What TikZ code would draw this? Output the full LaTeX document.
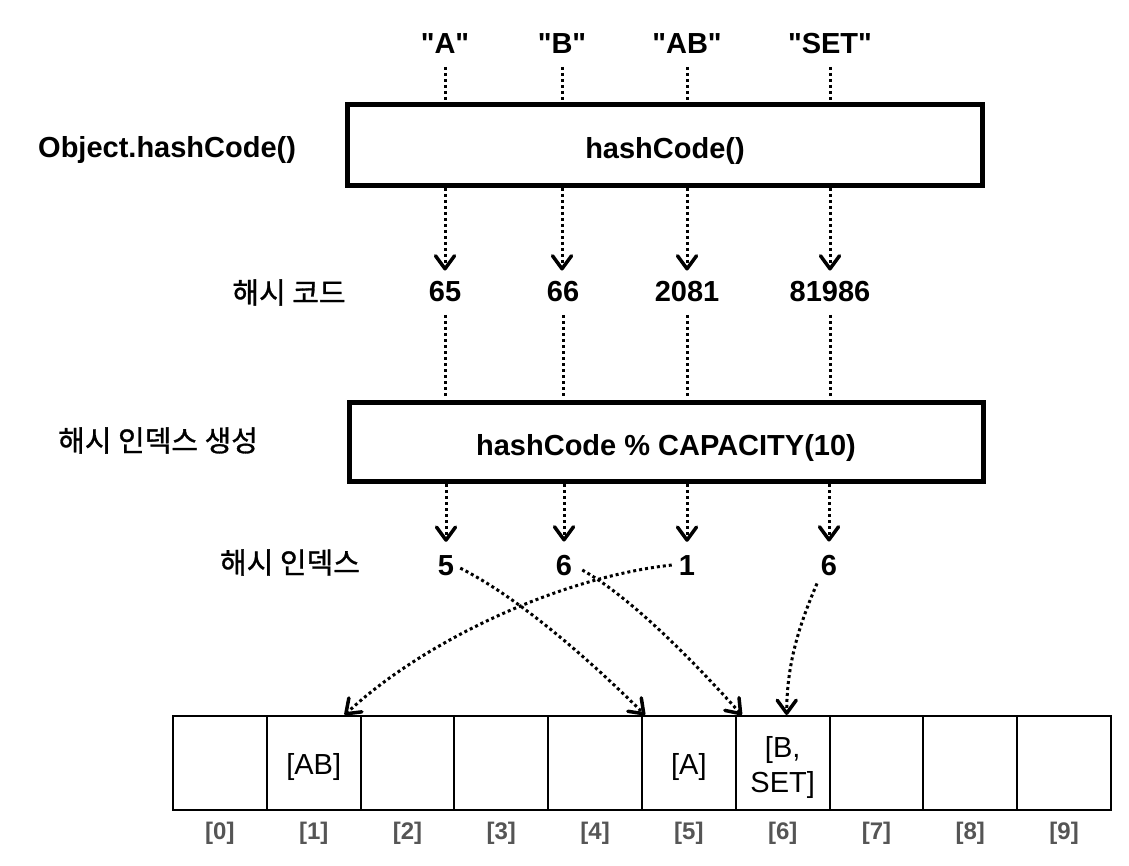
\documentclass[tikz,border=0pt]{standalone}
\usepackage{fontspec}
\setmainfont{Liberation Sans}
\newfontfamily\qf{Liberation Sans}
\newfontfamily\kr[FakeBold=1]{Noto Sans CJK KR}
\usetikzlibrary{arrows.meta}
\definecolor{idxgray}{HTML}{555555}
\begin{document}
\begin{tikzpicture}[x=1pt,y=-1pt,
  lbl/.style={font=\fontsize{29}{32}\selectfont\qf\bfseries, inner sep=0pt, anchor=base},
  krl/.style={font=\fontsize{29}{32}\selectfont\kr, inner sep=0pt},
  bigbox/.style={draw, line width=5pt, inner sep=0pt},
  cell/.style={draw, line width=2pt, minimum width=93.8pt, minimum height=94pt, inner sep=0pt},
  ctext/.style={font=\fontsize{29}{35}\selectfont, inner sep=0pt, align=center, yshift=-4pt},
  idxl/.style={font=\fontsize{24}{26}\selectfont\bfseries, text=idxgray, inner sep=0pt},
  dots/.style={line width=3pt, dash pattern=on 3pt off 3pt},
  arr/.style={dots, -{Straight Barb[length=13pt,width=19pt,line width=3.5pt,round]}},
]
\useasboundingbox (0,0) rectangle (1129,866);

% input strings
\node[lbl] (sA)   at (445,54) {"A"};
\node[lbl] (sB)   at (562,54) {"B"};
\node[lbl] (sAB)  at (687,54) {"AB"};
\node[lbl] (sSET) at (830,54) {"SET"};

% box 1
\node[bigbox, minimum width=635.5pt, minimum height=80.5pt] (b1) at (664.75,145.25) {};
\node[lbl] (t1) at (665,159) {hashCode()};
\node[lbl, anchor=base west] (obj) at (38,158) {Object.hashCode()};

% hash codes
\node[krl] (lhc) at (289,292.5) {해시 코드};
\node[lbl] (nA)   at (445,302) {65};
\node[lbl] (nB)   at (563,302) {66};
\node[lbl] (nAB)  at (687,302) {2081};
\node[lbl] (nSET) at (830,302) {81986};

% box 2
\node[bigbox, minimum width=633.9pt, minimum height=79pt] (b2) at (666.45,442) {};
\node[lbl] (t2) at (666,455) {hashCode \% CAPACITY(10)};
\node[krl, anchor=west] (lgen) at (58,440.5) {해시 인덱스 생성};

% indexes
\node[krl] (lidx) at (290,562.5) {해시 인덱스};
\node[lbl] (iA)   at (446,575) {5};
\node[lbl] (iB)   at (564,575) {6};
\node[lbl] (iAB)  at (687,575) {1};
\node[lbl] (iSET) at (829,575) {6};

% array
\foreach \i in {0,...,9} {
  \node[cell] (c\i) at ({173+93.8*(\i+0.5)},763) {};
  \node[idxl] (k\i) at ({173+93.8*(\i+0.5)},833.5) {[\i]};
}
\node[ctext] (v1) at (c1) {[AB]};
\node[ctext] (v5) at (c5) {[A]};
\node[ctext] (v6) at (c6) {[B,\\SET]};

% dotted connectors: strings -> box1
\foreach \n in {sA,sB,sAB,sSET} {
  \draw[dots] ([yshift=-13pt]\n.base) -- ([yshift=2pt]\n |- b1.north);
}
% box1 -> hash codes
\foreach \s/\n in {sA/nA,sB/nB,sAB/nAB,sSET/nSET} {
  \draw[arr] (\s |- b1.south) -- ([yshift=11pt]\s |- \n.north);
}
% hash codes -> box2
\foreach \n in {nA,nB,nAB,nSET} {
  \draw[dots] ([yshift=-13pt]\n.base) -- ([yshift=2pt]\n |- b2.north);
}
% box2 -> indexes
\foreach \n in {iA,iB,iAB,iSET} {
  \draw[arr] (\n |- b2.south) -- ([yshift=13pt]\n.north);
}

% indexes -> buckets
\draw[arr] ([shift={(6,3)}]iA.east) .. controls +(60,30) and +(-50,-50) .. ([shift={(4,0)}]c5.north west);
\draw[arr] ([shift={(10,5)}]iB.east) .. controls +(50,28) and +(-45,-50) .. ([shift={(7,0)}]c6.north west);
\draw[arr] ([shift={(-7,0)}]iAB.west) .. controls +(-110,12) and +(80,-75) .. ([shift={(-17,0)}]c1.north east);
\draw[arr] ([shift={(-12,8)}]iSET.south) .. controls +(-15,35) and +(0,-55) .. ([shift={(4,0)}]c6.north);
\end{tikzpicture}
\end{document}
